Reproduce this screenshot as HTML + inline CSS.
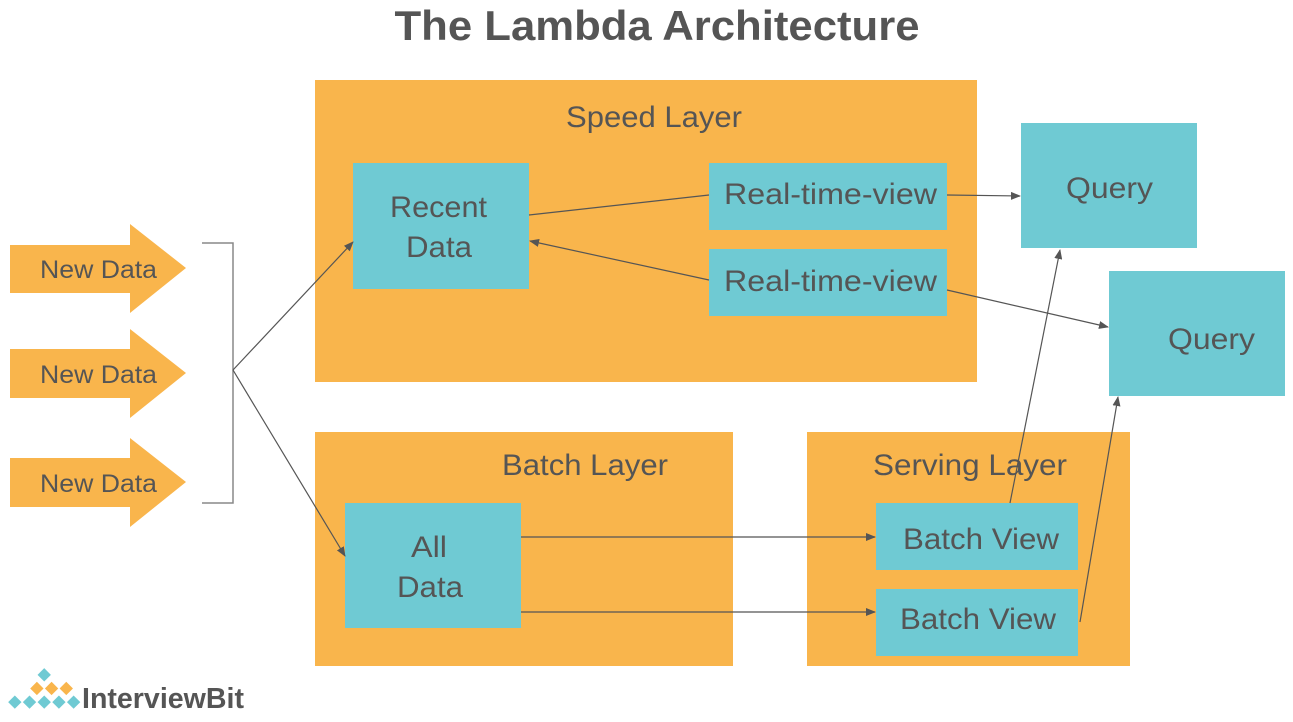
<!DOCTYPE html>
<html><head><meta charset="utf-8"><style>
html,body{margin:0;padding:0;background:#fff;}
svg{display:block;}
text{font-family:"Liberation Sans",sans-serif;fill:#555;}
</style></head><body>
<svg width="1293" height="722" viewBox="0 0 1293 722" xmlns="http://www.w3.org/2000/svg">
<defs>
<marker id="ah" markerWidth="10" markerHeight="8" refX="9" refY="4" orient="auto" markerUnits="userSpaceOnUse">
<path d="M0,0 L10,4 L0,8 Z" fill="#555"/>
</marker>
</defs>
<text x="657" y="40" text-anchor="middle" font-size="42" font-weight="bold" textLength="525" lengthAdjust="spacingAndGlyphs">The Lambda Architecture</text>

<g fill="#F9B54C">
<polygon points="10,245 130,245 130,224 186,268 130,313 130,293 10,293"/>
<polygon points="10,349 130,349 130,329 186,373 130,418 130,398 10,398"/>
<polygon points="10,458 130,458 130,438 186,482 130,527 130,507 10,507"/>
</g>
<g font-size="25">
<text x="40" y="278" textLength="117" lengthAdjust="spacingAndGlyphs">New Data</text>
<text x="40" y="383" textLength="117" lengthAdjust="spacingAndGlyphs">New Data</text>
<text x="40" y="492" textLength="117" lengthAdjust="spacingAndGlyphs">New Data</text>
</g>
<path d="M202,243 H233 V503 H202" fill="none" stroke="#888" stroke-width="1.5"/>

<rect x="315" y="80" width="662" height="302" fill="#F9B54C"/>
<rect x="315" y="432" width="418" height="234" fill="#F9B54C"/>
<rect x="807" y="432" width="323" height="234" fill="#F9B54C"/>

<g fill="#6FCAD3">
<rect x="353" y="163" width="176" height="126"/>
<rect x="709" y="163" width="238" height="67"/>
<rect x="709" y="249" width="238" height="67"/>
<rect x="1021" y="123" width="176" height="125"/>
<rect x="1109" y="271" width="176" height="125"/>
<rect x="345" y="503" width="176" height="125"/>
<rect x="876" y="503" width="202" height="67"/>
<rect x="876" y="589" width="202" height="67"/>
</g>

<g font-size="30">
<text x="566" y="127" textLength="176" lengthAdjust="spacingAndGlyphs">Speed Layer</text>
<text x="502" y="475" textLength="166" lengthAdjust="spacingAndGlyphs">Batch Layer</text>
<text x="873" y="475" textLength="194" lengthAdjust="spacingAndGlyphs">Serving Layer</text>
<text x="390" y="217" textLength="97" lengthAdjust="spacingAndGlyphs">Recent</text>
<text x="406" y="257" textLength="66" lengthAdjust="spacingAndGlyphs">Data</text>
<text x="724" y="204" textLength="213" lengthAdjust="spacingAndGlyphs">Real-time-view</text>
<text x="724" y="291" textLength="213" lengthAdjust="spacingAndGlyphs">Real-time-view</text>
<text x="1066" y="198" textLength="87" lengthAdjust="spacingAndGlyphs">Query</text>
<text x="1168" y="349" textLength="87" lengthAdjust="spacingAndGlyphs">Query</text>
<text x="411" y="557" textLength="36" lengthAdjust="spacingAndGlyphs">All</text>
<text x="397" y="597" textLength="66" lengthAdjust="spacingAndGlyphs">Data</text>
<text x="903" y="549" textLength="156" lengthAdjust="spacingAndGlyphs">Batch View</text>
<text x="900" y="629" textLength="156" lengthAdjust="spacingAndGlyphs">Batch View</text>
</g>

<g stroke="#555" stroke-width="1.2" fill="none">
<line x1="529" y1="215" x2="709" y2="195"/>
<line x1="709" y1="280" x2="530" y2="241" marker-end="url(#ah)"/>
<line x1="947" y1="195" x2="1020" y2="196" marker-end="url(#ah)"/>
<line x1="947" y1="290" x2="1108" y2="327" marker-end="url(#ah)"/>
<line x1="233" y1="370" x2="353" y2="242" marker-end="url(#ah)"/>
<line x1="233" y1="370" x2="345" y2="556" marker-end="url(#ah)"/>
<line x1="521" y1="537" x2="875" y2="537" marker-end="url(#ah)"/>
<line x1="521" y1="612" x2="875" y2="612" marker-end="url(#ah)"/>
<line x1="1010" y1="503" x2="1060" y2="250" marker-end="url(#ah)"/>
<line x1="1080" y1="622" x2="1118" y2="397" marker-end="url(#ah)"/>
</g>

<g transform="translate(8,668) scale(1.05)">
<g fill="#6FCAD3">
<rect x="30" y="2" width="9" height="9" transform="rotate(45 34.5 6.5)"/>
<rect x="2" y="28" width="9" height="9" transform="rotate(45 6.5 32.5)"/>
<rect x="16" y="28" width="9" height="9" transform="rotate(45 20.5 32.5)"/>
<rect x="30" y="28" width="9" height="9" transform="rotate(45 34.5 32.5)"/>
<rect x="44" y="28" width="9" height="9" transform="rotate(45 48.5 32.5)"/>
<rect x="58" y="28" width="9" height="9" transform="rotate(45 62.5 32.5)"/>
</g>
<g fill="#F9B54C">
<rect x="23" y="15" width="9" height="9" transform="rotate(45 27.5 19.5)"/>
<rect x="37" y="15" width="9" height="9" transform="rotate(45 41.5 19.5)"/>
<rect x="51" y="15" width="9" height="9" transform="rotate(45 55.5 19.5)"/>
</g>
</g>
<text x="82" y="708" font-size="29" font-weight="bold" fill="#666" textLength="162" lengthAdjust="spacingAndGlyphs">InterviewBit</text>
</svg>
</body></html>
